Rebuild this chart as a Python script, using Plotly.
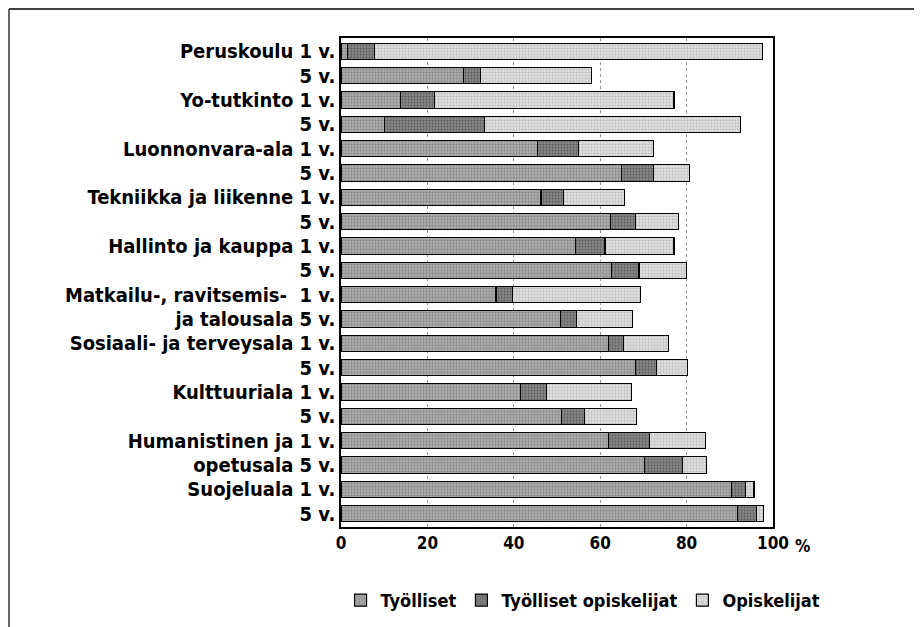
import plotly.graph_objects as go

# Row labels (top to bottom)
row_labels = [
    "Peruskoulu 1 v.", "5 v.",
    "Yo-tutkinto 1 v.", "5 v.",
    "Luonnonvara-ala 1 v.", "5 v.",
    "Tekniikka ja liikenne 1 v.", "5 v.",
    "Hallinto ja kauppa 1 v.", "5 v.",
    "Matkailu-, ravitsemis-  1 v.", "ja talousala 5 v.",
    "Sosiaali- ja terveysala 1 v.", "5 v.",
    "Kulttuuriala 1 v.", "5 v.",
    "Humanistinen ja 1 v.", "opetusala 5 v.",
    "Suojeluala 1 v.", "5 v.",
]

# Segment values (%)
tyolliset = [1.5, 28.3, 13.7, 10.0, 45.4, 65.0, 46.3, 62.3, 54.2, 62.7,
             35.9, 50.9, 61.9, 68.1, 41.6, 51.1, 61.9, 70.2, 90.4, 91.7]
tyolliset_opiskelijat = [6.2, 3.9, 7.9, 23.2, 9.5, 7.3, 5.2, 5.9, 6.9, 6.3,
                         3.8, 3.6, 3.5, 5.0, 6.0, 5.2, 9.5, 8.8, 3.3, 4.4]
opiskelijat = [89.8, 25.7, 55.5, 59.2, 17.4, 8.3, 14.1, 9.9, 16.0, 11.0,
               29.7, 13.0, 10.4, 7.1, 19.7, 12.1, 12.9, 5.6, 1.9, 1.7]

series_names = ["Työlliset", "Työlliset opiskelijat", "Opiskelijat"]
x_ticks = [0, 20, 40, 60, 80, 100]

FONT = "DejaVu Sans Condensed, Liberation Sans Narrow, sans-serif"
positions = list(range(len(row_labels)))

styles = [
    dict(color="#ababab", fg="#5e5e5e"),
    dict(color="#858585", fg="#333333"),
    dict(color="#dedede", fg="#9a9a9a"),
]

fig = go.Figure()
for name, vals, st in zip(series_names, [tyolliset, tyolliset_opiskelijat, opiskelijat], styles):
    fig.add_trace(go.Bar(
        y=positions, x=vals, name=name, orientation="h",
        marker=dict(color=st["color"], line=dict(color="black", width=1.2),
                    pattern=dict(shape=".", fgcolor=st["fg"], size=3, solidity=0.35)),
    ))

fig.update_layout(
    barmode="stack",
    bargap=0.33,
    width=922, height=627,
    margin=dict(l=333, r=157, t=30, b=108, autoexpand=False),
    paper_bgcolor="white", plot_bgcolor="white",
    font=dict(family=FONT, size=20, color="black", weight="bold"),
    showlegend=True,
    legend=dict(orientation="h", x=-0.001, xanchor="left", y=-0.15, yanchor="middle",
                traceorder="normal",
                font=dict(family=FONT, size=18, color="black", weight="bold"),
                itemwidth=30, tracegroupgap=0, bgcolor="rgba(0,0,0,0)"),
    xaxis=dict(range=[0, 100], tickvals=x_ticks, ticktext=[str(v) for v in x_ticks],
               showgrid=True, gridcolor="#999999", griddash="dot", gridwidth=1,
               showline=True, linecolor="black", linewidth=1.5, mirror=True,
               ticks="", zeroline=False,
               tickfont=dict(family=FONT, size=17, color="black", weight="bold")),
    yaxis=dict(tickvals=positions, ticktext=row_labels,
               range=[len(row_labels) - 0.45, -0.55], autorange=False,
               showgrid=False, showline=True, linecolor="black",
               linewidth=1.5, mirror=True, ticks="", zeroline=False,
               tickfont=dict(family=FONT, size=20, color="black", weight="bold")),
)

# "%" unit after tick labels
fig.add_annotation(text="%", x=1.069, y=-0.039, xref="paper", yref="paper",
                   xanchor="center", yanchor="middle", showarrow=False,
                   font=dict(family=FONT, size=17, color="black", weight="bold"))

# Outer frame lines (top and left)
fig.add_shape(type="line", xref="paper", yref="paper", x0=-0.7685, x1=1.37,
              y0=1.0595, y1=1.0595, line=dict(color="black", width=1.5))
fig.add_shape(type="line", xref="paper", yref="paper", x0=-0.7685, x1=-0.7685,
              y0=1.0595, y1=-0.23, line=dict(color="#333333", width=1.5))

fig.write_html("out.html")
